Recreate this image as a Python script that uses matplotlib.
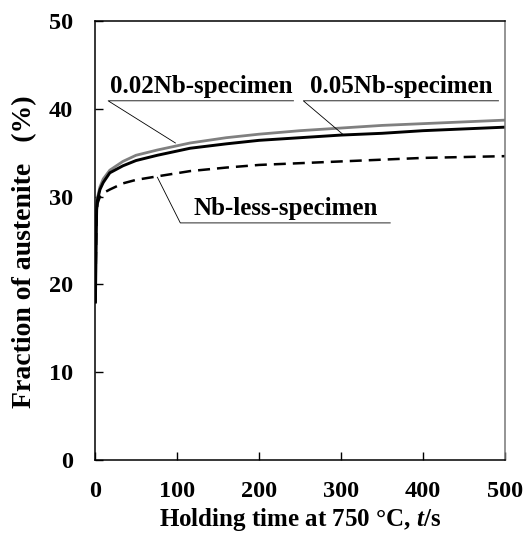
import numpy as np
import matplotlib as mpl
mpl.use('Agg')
from matplotlib import pyplot as plt

## Data
time_s = [0.5, 1, 1.5, 2, 3, 6, 10, 18, 34, 50, 76, 116, 160, 200, 250, 300, 350, 400, 450, 500]
nb002 = [18.0, 23.0, 26.5, 28.8, 29.9, 31.1, 32.0, 33.0, 34.0, 34.7, 35.3, 36.1, 36.7, 37.1, 37.5, 37.8, 38.1, 38.3, 38.5, 38.7]
nb005 = [18.0, 22.5, 26.0, 28.5, 29.6, 30.8, 31.6, 32.7, 33.5, 34.1, 34.7, 35.5, 36.0, 36.4, 36.7, 37.0, 37.2, 37.5, 37.7, 37.9]
nbless = [18.0, 22.5, 26.0, 28.3, 29.2, 30.0, 30.4, 30.8, 31.5, 31.9, 32.3, 32.9, 33.3, 33.6, 33.8, 34.0, 34.2, 34.4, 34.5, 34.6]

plt.rcParams['font.family'] = 'Liberation Serif'
plt.rcParams['font.weight'] = 'bold'
plt.rcParams['mathtext.fontset'] = 'custom'
plt.rcParams['mathtext.it'] = 'Liberation Serif:italic:bold'
plt.rcParams['mathtext.rm'] = 'Liberation Serif:bold'

fig = plt.figure(figsize=(5.25, 5.35), dpi=100)
ax = fig.add_axes([0.181, 0.140, 0.781, 0.821])

ax.plot(time_s, nb002, color='#808080', lw=2.0)
ax.plot(time_s, nb005, color='black', lw=2.1)
ax.plot(time_s, nbless, color='black', lw=1.8, ls=(0, (4.8, 2.8)))

ax.set_xlim(0, 500)
ax.set_ylim(0, 50)
ax.set_xticks(range(0, 501, 100))
ax.set_yticks(range(0, 51, 10))
ax.tick_params(direction='in', length=6, width=1, labelsize=17.5)
ax.tick_params(axis='x', pad=15)
ax.tick_params(axis='y', pad=16)
for s in ax.spines.values():
    s.set_linewidth(1.1)
ax.spines['right'].set_color('#777777')

ax.set_xlabel(r'Holding time at 750 °C, $t$/s', fontsize=18, fontweight='bold', labelpad=3)
ax.set_ylabel('Fraction of austenite   (%)', fontsize=20, fontweight='bold')
ax.yaxis.set_label_coords(-0.142, 0.474)

## labels with underline + leader line
def label(text, ty, x0, x1, ux, uy):
    ax.text((x0 + x1) / 2, ty + 0.9, text, ha='center', va='baseline', fontsize=18, fontweight='bold')
    ax.plot([x1, x0, ux], [ty, ty, uy], color='black', lw=0.6, clip_on=False)

label('0.02Nb-specimen', 40.9, 16, 242, 98, 36.1)
label('0.05Nb-specimen', 40.9, 254, 492, 302, 37.1)
label('Nb-less-specimen', 27.0, 104, 360, 76, 32.2)

plt.savefig('out.png', dpi=100)
